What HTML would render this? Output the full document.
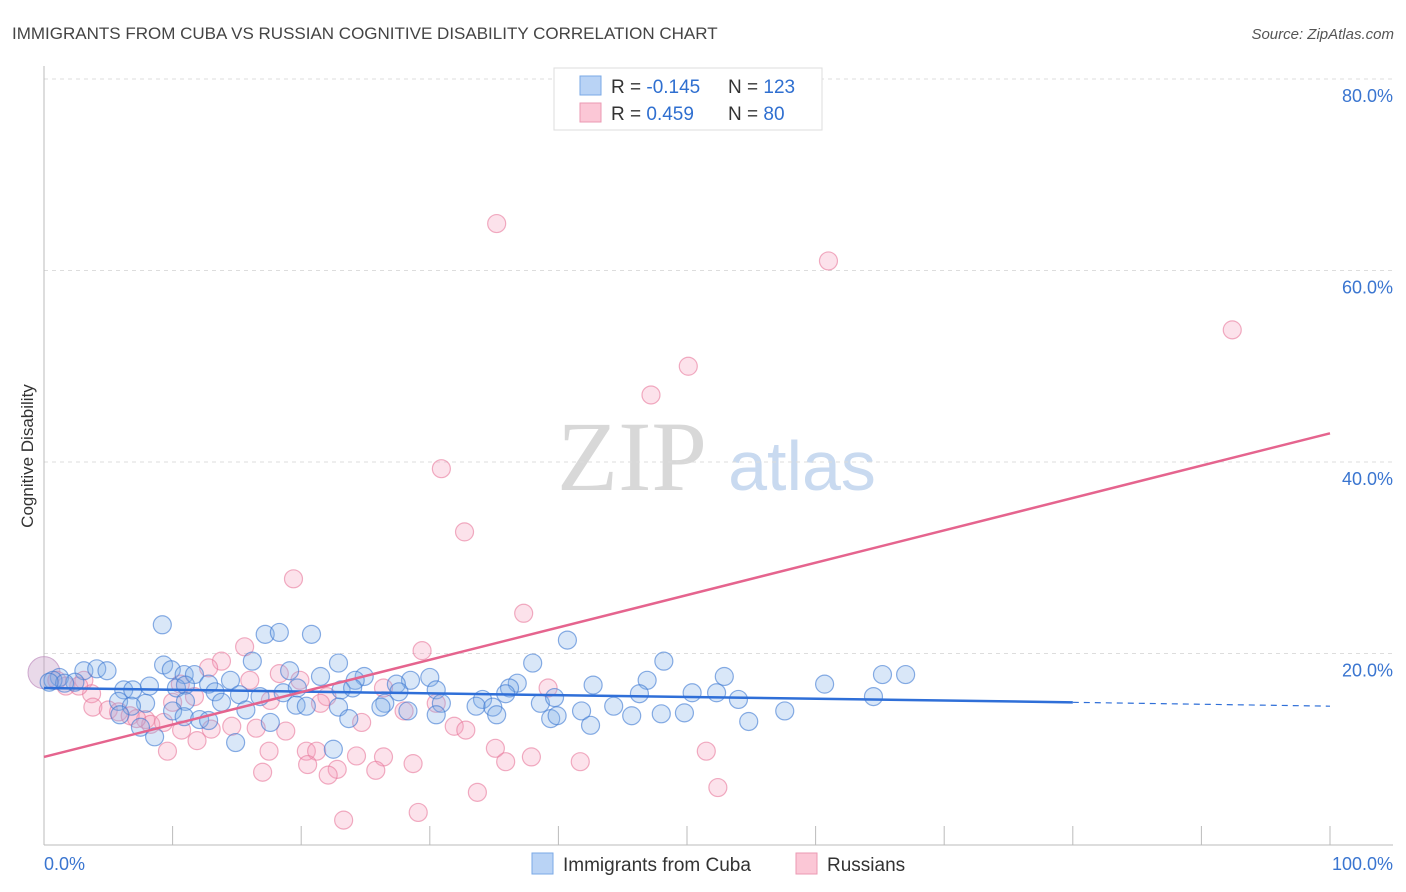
<!DOCTYPE html>
<html><head><meta charset="utf-8"><style>
body{margin:0;background:#fff;font-family:"Liberation Sans",sans-serif;}
#wrap{position:relative;width:1406px;height:892px;overflow:hidden}
</style></head><body>
<div id="wrap">
<svg id="chart" width="1406" height="892" xmlns="http://www.w3.org/2000/svg">
<text x="12" y="39" font-size="17" fill="#444">IMMIGRANTS FROM CUBA VS RUSSIAN COGNITIVE DISABILITY CORRELATION CHART</text>
<text x="1394" y="39" font-size="15" fill="#555" font-style="italic" text-anchor="end">Source: ZipAtlas.com</text>
<text x="0" y="0" font-size="17" fill="#333" transform="translate(33,456) rotate(-90)" text-anchor="middle">Cognitive Disability</text>
<g>
<text x="632" y="490" font-size="100" fill="#d8d8d8" font-family="Liberation Serif,serif" text-anchor="middle">ZIP</text>
<text x="802" y="490" font-size="70" fill="#c9daf0" text-anchor="middle">atlas</text>
</g>
<g id="grid"></g>
<g id="axes"></g>
<g id="pts"></g>
<g id="lines"></g>
<g>
<rect x="554" y="68" width="268" height="62" fill="#fff" stroke="#ddd"/>
<rect x="580" y="76" width="21" height="19" fill="#b9d3f5" stroke="#7aa8e6"/>
<rect x="580" y="103" width="21" height="19" fill="#fbc7d6" stroke="#eb9ab3"/>
<text x="611" y="93" font-size="19" fill="#333">R = <tspan fill="#2f6fd0">-0.145</tspan></text>
<text x="728" y="93" font-size="19" fill="#333">N = <tspan fill="#2f6fd0">123</tspan></text>
<text x="611" y="120" font-size="19" fill="#333">R = <tspan fill="#2f6fd0"> 0.459</tspan></text>
<text x="728" y="120" font-size="19" fill="#333">N = <tspan fill="#2f6fd0"> 80</tspan></text>
</g>
<g>
<rect x="532" y="853" width="21" height="21" fill="#b9d3f5" stroke="#7aa8e6"/>
<text x="563" y="871" font-size="19" fill="#333">Immigrants from Cuba</text>
<rect x="796" y="853" width="21" height="21" fill="#fbc7d6" stroke="#eb9ab3"/>
<text x="827" y="871" font-size="19" fill="#333">Russians</text>
</g>
</svg>
</div>
<script>
const yTicks=[20,40,60,80];
const yTickLabels=["20.0%","40.0%","60.0%","80.0%"];
const xLabels=["0.0%","100.0%"];
const cubaX=[9.2,17.2,18.3,20.8,40.7,9.3,16.2,22.9,38.0,48.2,3.1,4.1,4.9,9.9,10.9,11.7,19.1,21.5,24.9,24.2,28.5,27.4,30.0,36.8,36.2,42.7,46.9,52.9,60.7,65.2,67.0,1.2,2.4,6.2,6.9,8.2,10.3,11.0,12.8,13.3,14.5,15.2,16.8,18.6,19.7,23.1,24.0,26.5,27.6,30.5,30.9,34.1,35.9,38.6,39.7,46.3,50.4,52.3,54.0,64.5,5.8,7.9,6.8,11.0,13.8,15.7,19.6,20.4,22.9,26.2,28.3,33.6,34.9,41.8,44.3,45.7,48.0,49.8,57.6,5.9,10.0,10.9,12.1,12.8,23.7,30.5,35.2,39.4,39.9,42.5,54.8,17.6,7.5,8.6,14.9,22.5,0.7,1.6,0.4];
const cubaY=[23.0,22.0,22.2,22.0,21.4,18.8,19.2,19.0,19.0,19.2,18.2,18.4,18.2,18.3,17.8,17.8,18.2,17.6,17.6,17.2,17.2,16.8,17.5,16.9,16.4,16.7,17.2,17.6,16.8,17.8,17.8,17.5,17.0,16.2,16.2,16.6,16.4,16.7,16.8,16.0,17.2,15.7,15.5,15.9,16.4,16.2,16.4,14.8,16.0,16.2,14.8,15.2,15.8,14.8,15.4,15.8,15.9,15.9,15.2,15.5,15.0,14.8,14.5,15.0,14.9,14.1,14.6,14.5,14.4,14.4,14.0,14.5,14.4,14.0,14.5,13.5,13.7,13.8,14.0,13.6,14.0,13.4,13.1,13.0,13.2,13.6,13.6,13.2,13.5,12.5,12.9,12.8,12.3,11.3,10.7,10.0,17.2,16.9,17.0];
const rusX=[35.2,61.0,92.4,50.1,47.2,30.9,32.7,19.4,37.3,15.6,29.4,13.8,12.8,18.3,3.1,10.6,16.0,26.4,39.2,19.9,22.0,3.7,2.7,10.0,11.7,17.6,21.5,30.5,3.8,5.0,5.8,7.9,6.7,14.6,13.0,10.7,8.3,16.5,18.8,24.7,28.0,31.9,32.8,11.9,9.6,17.5,20.4,21.2,24.3,26.4,35.1,37.9,51.5,17.0,20.5,22.8,25.8,28.7,35.9,41.7,22.1,52.4,33.7,29.1,23.3,1.0,1.7,9.3,7.2];
const rusY=[64.9,61.0,53.8,50.0,47.0,39.3,32.7,27.8,24.2,20.7,20.3,19.2,18.5,17.9,17.2,16.8,17.2,16.4,16.4,17.2,15.5,15.8,16.6,14.9,15.5,15.1,14.8,14.8,14.4,14.1,13.9,13.1,13.5,12.4,12.1,12.0,12.6,12.2,11.9,12.8,14.0,12.4,12.0,10.9,9.8,9.8,9.8,9.8,9.3,9.2,10.1,9.2,9.8,7.6,8.4,7.9,7.8,8.5,8.7,8.7,7.3,6.0,5.5,3.4,2.6,17.2,16.6,12.8,13.2];
const cubaTrend=[16.4,14.9,14.5];
const rusTrend=[9.2,43.0];
const NS="http://www.w3.org/2000/svg";
const X0=44,X1=1330,Y0=845,PY=9.575;
function sx(v){return X0+(X1-X0)*v/100;}
function sy(v){return Y0-v*PY;}
function mk(tag,attrs,parent){const e=document.createElementNS(NS,tag);for(const k in attrs)e.setAttribute(k,attrs[k]);document.getElementById(parent).appendChild(e);return e;}
yTicks.forEach((t,i)=>{
 const g=mk('line',{x1:X0,x2:1393,y1:sy(t),y2:sy(t),stroke:'#ddd','stroke-dasharray':'4,4'},'grid');
 
 
 const l=mk('text',{x:1393,y:sy(t)+23,'font-size':18,fill:'#3a75d0','text-anchor':'end'},'grid');
 l.textContent=yTickLabels[i];
 
 
});
const topG=mk('line',{x1:X0,x2:1393,y1:sy(80),y2:sy(80),stroke:'#ddd','stroke-dasharray':'4,4'},'grid');


const ya=mk('line',{x1:X0,x2:X0,y1:66,y2:Y0,stroke:'#bbb'},'axes');


const xa=mk('line',{x1:X0,x2:1393,y1:Y0,y2:Y0,stroke:'#bbb'},'axes');


for(let i=0;i<=10;i++){
 const t=mk('line',{x1:sx(i*10),x2:sx(i*10),y1:Y0,y2:Y0-19,stroke:'#bbb'},'axes');
 
 
}
const xl0=mk('text',{x:44,y:870,'font-size':18,fill:'#3a75d0'},'axes');xl0.textContent=xLabels[0];


const xl1=mk('text',{x:1393,y:870,'font-size':18,fill:'#3a75d0','text-anchor':'end'},'axes');xl1.textContent=xLabels[1];


const big=mk('circle',{cx:sx(0),cy:sy(18.0),r:16,fill:'rgba(200,160,200,0.4)',stroke:'rgba(190,140,190,0.7)'},'pts');


rusX.forEach((v,i)=>{
 const c=mk('circle',{cx:sx(v),cy:sy(rusY[i]),r:9,fill:'rgba(244,160,188,0.3)',stroke:'rgba(232,120,155,0.6)','stroke-width':1.2},'pts');
 
 
});
cubaX.forEach((v,i)=>{
 const c=mk('circle',{cx:sx(v),cy:sy(cubaY[i]),r:9,fill:'rgba(130,175,232,0.3)',stroke:'rgba(60,120,210,0.6)','stroke-width':1.2},'pts');
 
 
});
const bl=mk('line',{x1:sx(0),y1:sy(cubaTrend[0]),x2:sx(80),y2:sy(cubaTrend[1]),stroke:'#2f6fd8','stroke-width':2.5},'lines');


const bd=mk('line',{x1:sx(80),y1:sy(cubaTrend[1]),x2:sx(100),y2:sy(cubaTrend[2]),stroke:'#2f6fd8','stroke-width':1.2,'stroke-dasharray':'6,5'},'lines');


const pl=mk('line',{x1:sx(0),y1:sy(rusTrend[0]),x2:sx(100),y2:sy(rusTrend[1]),stroke:'#e5648e','stroke-width':2.5},'lines');


</script>
</body></html>
